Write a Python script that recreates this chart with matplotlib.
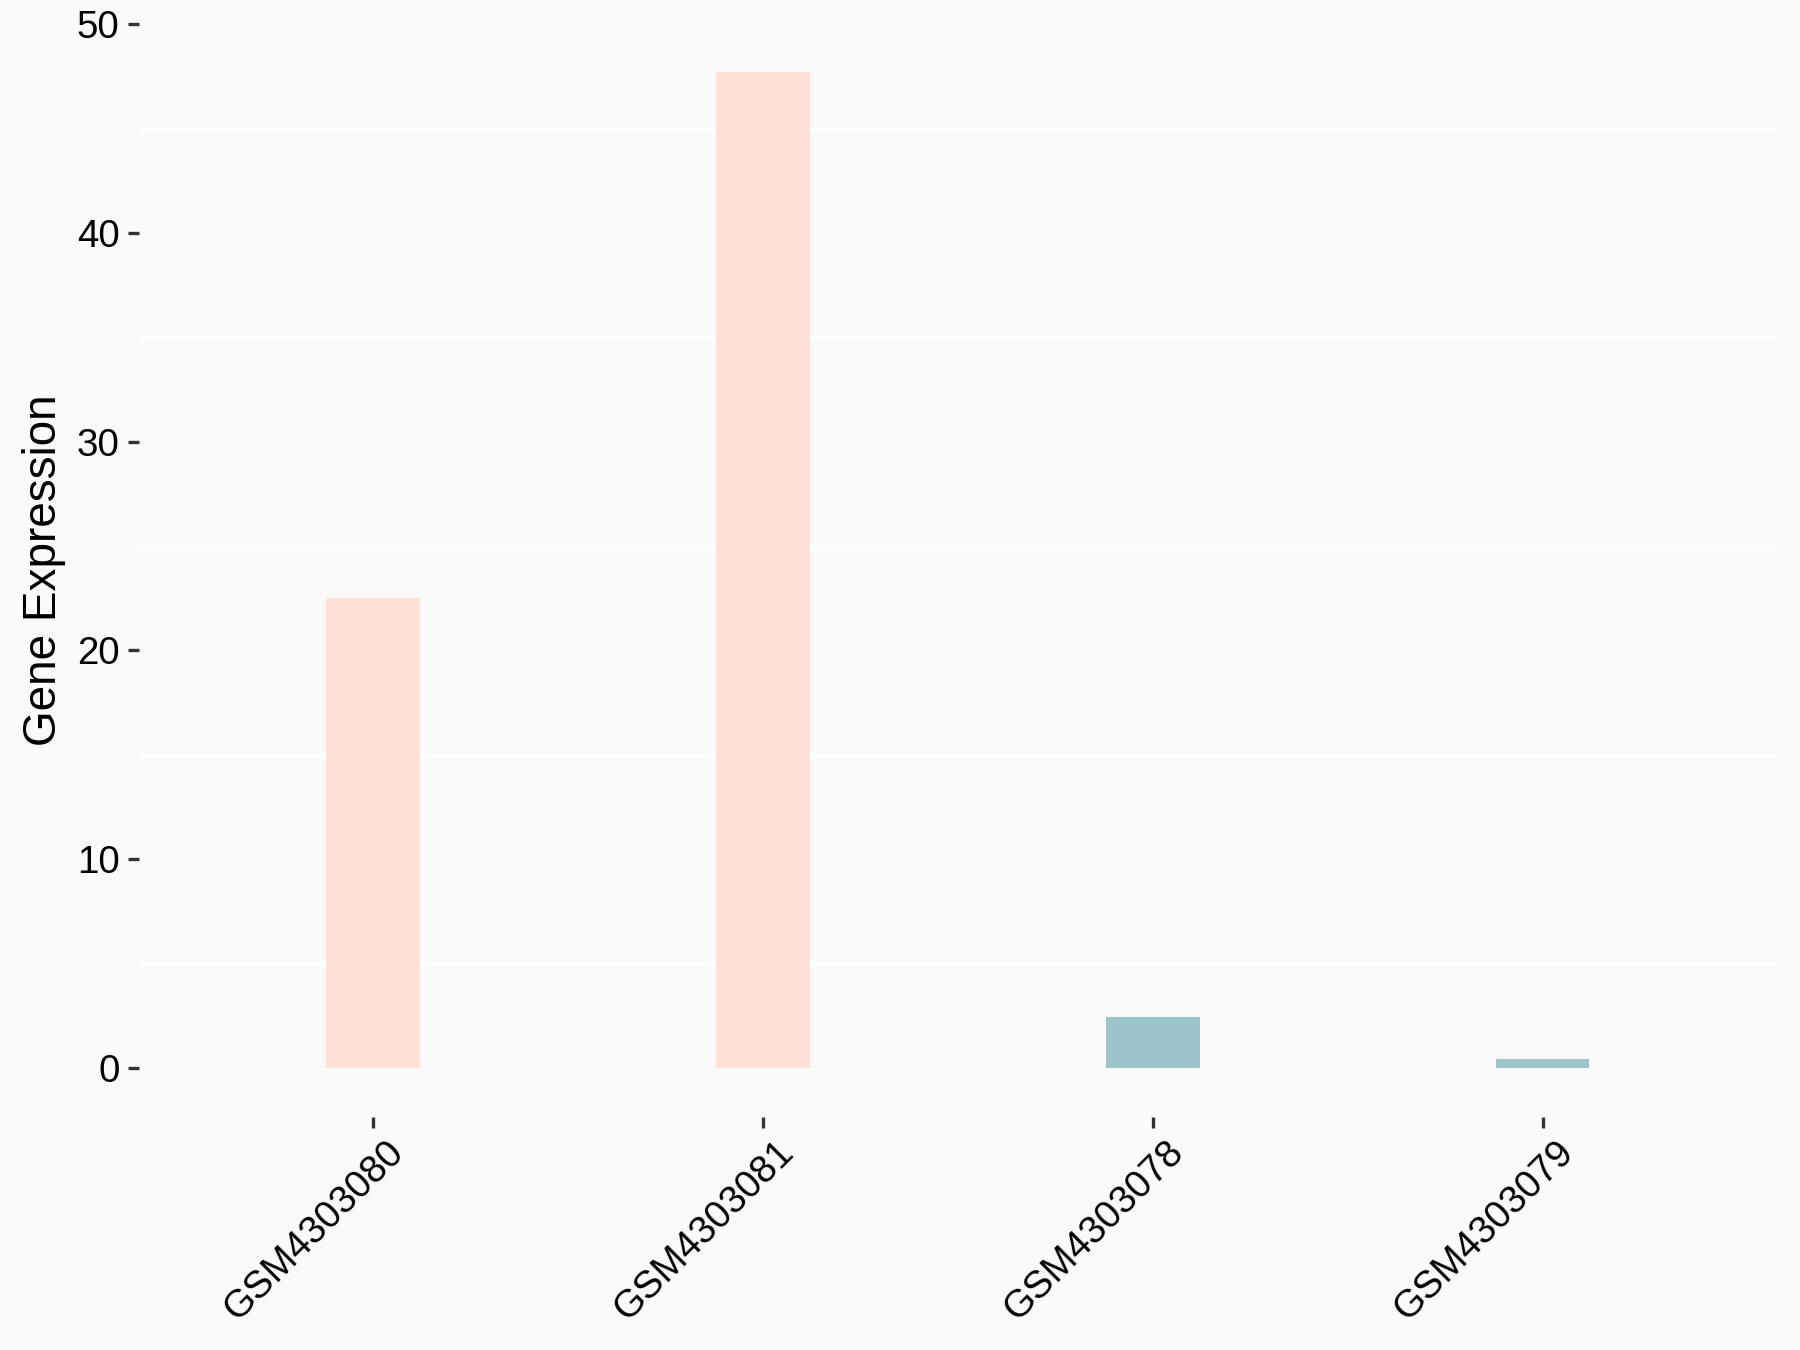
import numpy as np
import matplotlib
matplotlib.use("Agg")
import matplotlib.pyplot as plt
import matplotlib.transforms as mtransforms

samples = ["GSM4303080", "GSM4303081", "GSM4303078", "GSM4303079"]
expression = [22.5, 47.7, 2.43, 0.42]
groups = ["high", "high", "low", "low"]
group_colors = {"high": "#FFE1D6", "low": "#9DC5C9"}

plt.rcParams["font.family"] = ["Liberation Sans", "DejaVu Sans"]
bg = "#FAFAFA"

fig = plt.figure(figsize=(12, 9), dpi=150, facecolor=bg)
ax = fig.add_axes([0.0772, 0.1724, 0.9098, 0.8109], facecolor=bg)

x = np.arange(1, len(samples) + 1)
ax.bar(x, expression, width=0.24, color=[group_colors[g] for g in groups], zorder=2)

pad = 0.05 * max(expression)
ax.set_ylim(-pad, max(expression) + pad)
ax.set_xlim(0.4, len(samples) + 0.6)

ax.set_yticks(np.arange(0, 51, 10))
ax.set_yticks(np.arange(5, 50, 10), minor=True)
ax.yaxis.grid(True, which="minor", color="white", linewidth=1.2, zorder=1)
ax.tick_params(axis="y", which="minor", length=0)

ax.set_xticks(x)
ax.set_xticklabels(samples, rotation=45, ha="right", va="top", rotation_mode="anchor",
                   fontsize=18.2)
ax.tick_params(axis="both", which="major", length=5.3, width=1.6, color="#333333",
               labelsize=18.5, labelcolor="black", pad=4)
ax.tick_params(axis="x", which="major", pad=5)
shift = mtransforms.ScaledTranslation(6 / 72, 2 / 72, fig.dpi_scale_trans)
for lbl in ax.get_xticklabels():
    lbl.set_transform(lbl.get_transform() + shift)

for s in ax.spines.values():
    s.set_visible(False)

ax.set_ylabel("Gene Expression", fontsize=22, labelpad=5)

fig.savefig("out.png", dpi=150, facecolor=bg)
